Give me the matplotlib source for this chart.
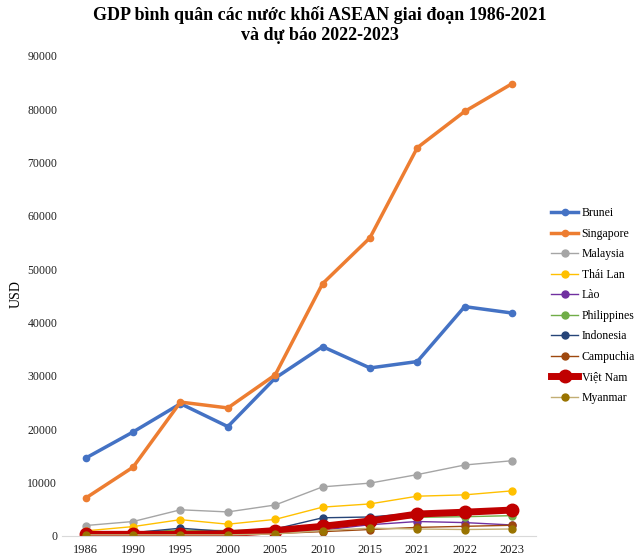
import matplotlib.pyplot as plt
import numpy as np

plt.rcParams['font.family'] = ['Liberation Serif', 'DejaVu Serif']

# ---------------- Data ----------------
years = ['1986', '1990', '1995', '2000', '2005', '2010', '2015', '2021', '2022', '2023']

brunei      = [14600, 19500, 24800, 20500, 29600, 35500, 31500, 32700, 43000, 41800]
singapore   = [7100, 12900, 25100, 24000, 30200, 47300, 55900, 72800, 79600, 84800]
malaysia    = [1950, 2700, 4900, 4500, 5800, 9200, 9900, 11500, 13300, 14100]
thailand    = [950, 1750, 3050, 2200, 3100, 5400, 6000, 7450, 7700, 8450]
laos        = [300, 250, 350, 320, 500, 1100, 2100, 2700, 2500, 2050]
philippines = [550, 700, 1100, 1000, 1200, 2100, 2900, 3500, 3600, 3800]
indonesia   = [500, 600, 1450, 800, 1300, 3400, 3550, 4300, 4700, 5000]
cambodia    = [100, 100, 300, 300, 450, 800, 1200, 1600, 1800, 2000]
vietnam     = [300, 300, 300, 400, 1000, 1800, 2800, 4100, 4450, 4850]
myanmar     = [200, 200, 200, 200, 350, 1000, 1450, 1300, 1200, 1300]

# ---------------- Plot ----------------
fig = plt.figure(figsize=(6.4, 5.6), dpi=100)
ax = fig.add_axes([0.097, 0.043, 0.74, 0.857])
x = np.arange(len(years))

series = [
    ("Brunei",      brunei,      '#4472C4', '#4472C4', 2.5, 4.5),
    ("Singapore",   singapore,   '#ED7D31', '#ED7D31', 2.5, 4.5),
    ("Malaysia",    malaysia,    '#A5A5A5', '#A5A5A5', 1.0, 5),
    ("Thái Lan",    thailand,    '#FFC000', '#FFC000', 1.0, 5),
    ("Lào",         laos,        '#7030A0', '#7030A0', 1.0, 5),
    ("Philippines", philippines, '#70AD47', '#70AD47', 1.0, 5),
    ("Indonesia",   indonesia,   '#264478', '#264478', 1.0, 5),
    ("Campuchia",   cambodia,    '#9E480E', '#9E480E', 1.0, 5),
    ("Việt Nam",    vietnam,     '#C00000', '#C00000', 5.0, 9),
    ("Myanmar",     myanmar,     '#C2AE74', '#997300', 1.0, 5),
]
for name, vals, lc, mc, lw, ms in series:
    ax.plot(x, vals, color=lc, lw=lw, marker='o', ms=ms,
            markerfacecolor=mc, markeredgecolor=mc, label=name)

ax.set_xlim(-0.5, len(years) - 0.5)
ax.set_ylim(0, 90000)
ax.set_yticks(np.arange(0, 90001, 10000))
ax.set_xticks(x, labels=years)
ax.tick_params(length=0, labelsize=8.5, colors='#222222')
ax.tick_params(axis='x', pad=6, labelsize=9)
for s in ['top', 'right', 'left']:
    ax.spines[s].set_visible(False)
ax.spines['bottom'].set_color('#D9D9D9')
fig.text(0.025, 0.475, "USD", rotation=90, ha='center', va='center', fontsize=10)

fig.suptitle("GDP bình quân các nước khối ASEAN giai đoạn 1986-2021\nvà dự báo 2022-2023",
             fontsize=13, fontweight='bold', y=0.99, linespacing=1.3)

ax.legend(loc='center left', bbox_to_anchor=(1.01, 0.48), frameon=False,
          fontsize=8.5, handlelength=2.3, handletextpad=0.3, labelspacing=0.72)

fig.savefig("out.png", dpi=100)
